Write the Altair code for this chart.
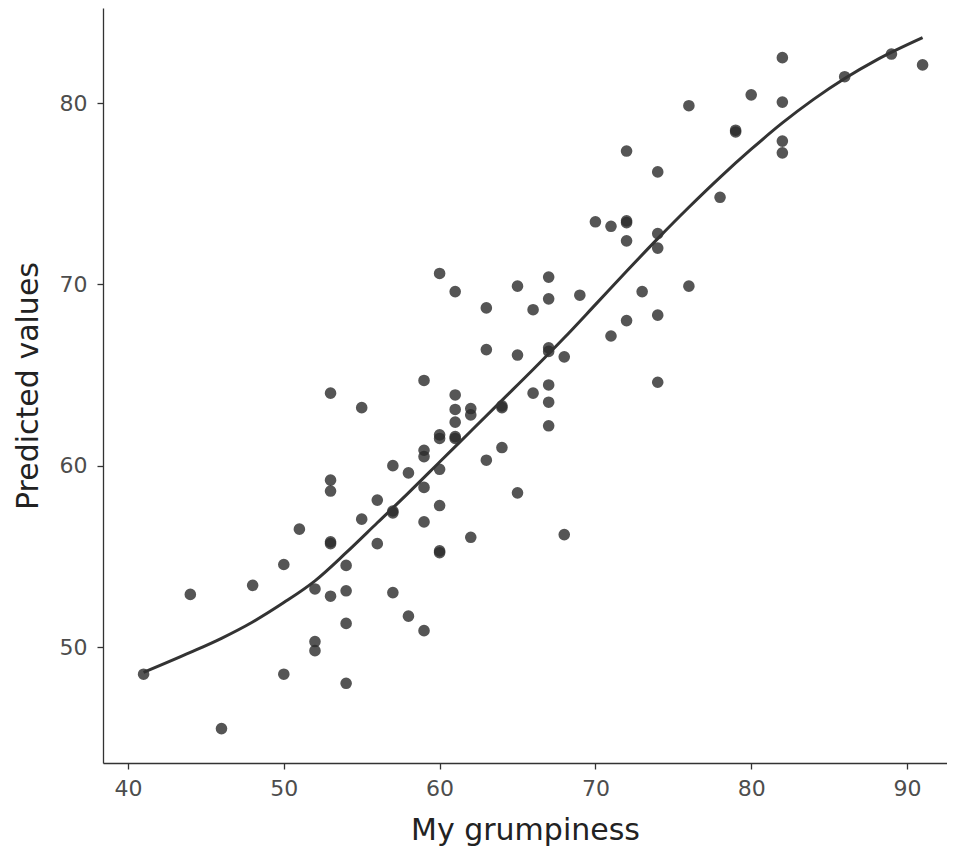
import altair as alt
import pandas as pd

# Observed points (grumpiness, predicted value)
grump = [41, 44, 46, 48,
         50, 50, 51,
         52, 52, 52,
         53, 53, 53, 53, 53, 53,
         54, 54, 54, 54,
         55, 55, 56, 56,
         57, 57, 57, 57,
         58, 58,
         59, 59, 59, 59, 59, 59,
         60, 60, 60, 60, 60, 60, 60,
         61, 61, 61, 61, 61, 61,
         62, 62, 62,
         63, 63, 63,
         64, 64, 64,
         65, 65, 65,
         66, 66,
         67, 67, 67, 67, 67, 67, 67,
         68, 68, 69, 70,
         71, 71,
         72, 72, 72, 72, 72,
         73,
         74, 74, 74, 74, 74,
         76, 76, 78, 79, 79, 80,
         82, 82, 82, 82,
         86, 89, 91]
pred = [48.5, 52.9, 45.5, 53.4,
        54.55, 48.5, 56.5,
        53.2, 50.3, 49.8,
        64.0, 59.2, 58.6, 55.8, 55.7, 52.8,
        54.5, 53.1, 51.3, 48.0,
        63.2, 57.05, 58.1, 55.7,
        60.0, 57.5, 57.4, 53.0,
        59.6, 51.7,
        64.7, 60.85, 60.5, 58.8, 56.9, 50.9,
        70.6, 61.7, 61.5, 59.8, 57.8, 55.3, 55.2,
        69.6, 63.9, 63.1, 62.4, 61.6, 61.5,
        63.15, 62.8, 56.05,
        68.7, 66.4, 60.3,
        63.3, 63.2, 61.0,
        69.9, 66.1, 58.5,
        68.6, 64.0,
        70.4, 69.2, 66.5, 66.3, 64.45, 63.5, 62.2,
        66.0, 56.2, 69.4, 73.45,
        73.2, 67.15,
        77.35, 73.5, 73.4, 72.4, 68.0,
        69.6,
        76.2, 72.8, 72.0, 68.3, 64.6,
        79.85, 69.9, 74.8, 78.5, 78.4, 80.45,
        82.5, 80.05, 77.9, 77.25,
        81.45, 82.7, 82.1]

# Smooth fitted curve
curve_x = [41, 44, 46, 48, 50, 52, 54, 56, 58, 60, 62, 64, 66, 68, 70, 72, 74, 76, 78, 80, 82, 84, 86, 88, 91]
curve_y = [48.6, 49.7, 50.48, 51.38, 52.45, 53.65, 55.2, 56.85, 58.5, 60.2, 61.9, 63.6, 65.3, 67.05,
           68.88, 70.72, 72.52, 74.25, 75.9, 77.45, 78.9, 80.2, 81.35, 82.35, 83.6]

x_ticks = [40, 50, 60, 70, 80, 90]
y_ticks = [50, 60, 70, 80]

pts = pd.DataFrame({"x": grump, "y": pred})
crv = pd.DataFrame({"x": curve_x, "y": curve_y})

FONT = "DejaVu Sans"
xscale = alt.Scale(domain=[38.395, 92.567], nice=False, zero=False)
yscale = alt.Scale(domain=[43.603, 85.239], nice=False, zero=False)

xaxis = alt.Axis(values=x_ticks, title="My grumpiness", labelPadding=9, titlePadding=16)
yaxis = alt.Axis(values=y_ticks, title="Predicted values", labelPadding=10, titlePadding=16)

points = alt.Chart(pts).mark_circle(size=135, color="#2b2b2b", opacity=0.8).encode(
    x=alt.X("x:Q", scale=xscale, axis=xaxis),
    y=alt.Y("y:Q", scale=yscale, axis=yaxis),
)

line = alt.Chart(crv).mark_line(color="#333333", strokeWidth=3, interpolate="monotone").encode(
    x=alt.X("x:Q", scale=xscale),
    y=alt.Y("y:Q", scale=yscale),
)

chart = alt.layer(points, line).properties(
    width=844, height=755,
    autosize=alt.AutoSizeParams(type="none"),
    padding={"left": 95, "top": 0, "right": 0, "bottom": 85},
).configure_view(stroke=None).configure_axis(
    grid=False,
    domainColor="#333333", domainWidth=1.3,
    tickColor="#333333", tickWidth=1.3, tickSize=6,
    labelColor="#4d4d4d", labelFont=FONT, labelFontSize=22,
    titleColor="#222222", titleFont=FONT, titleFontSize=30, titleFontWeight="normal",
)

chart.save("out.html", embed_options={"renderer": "svg", "actions": False})
